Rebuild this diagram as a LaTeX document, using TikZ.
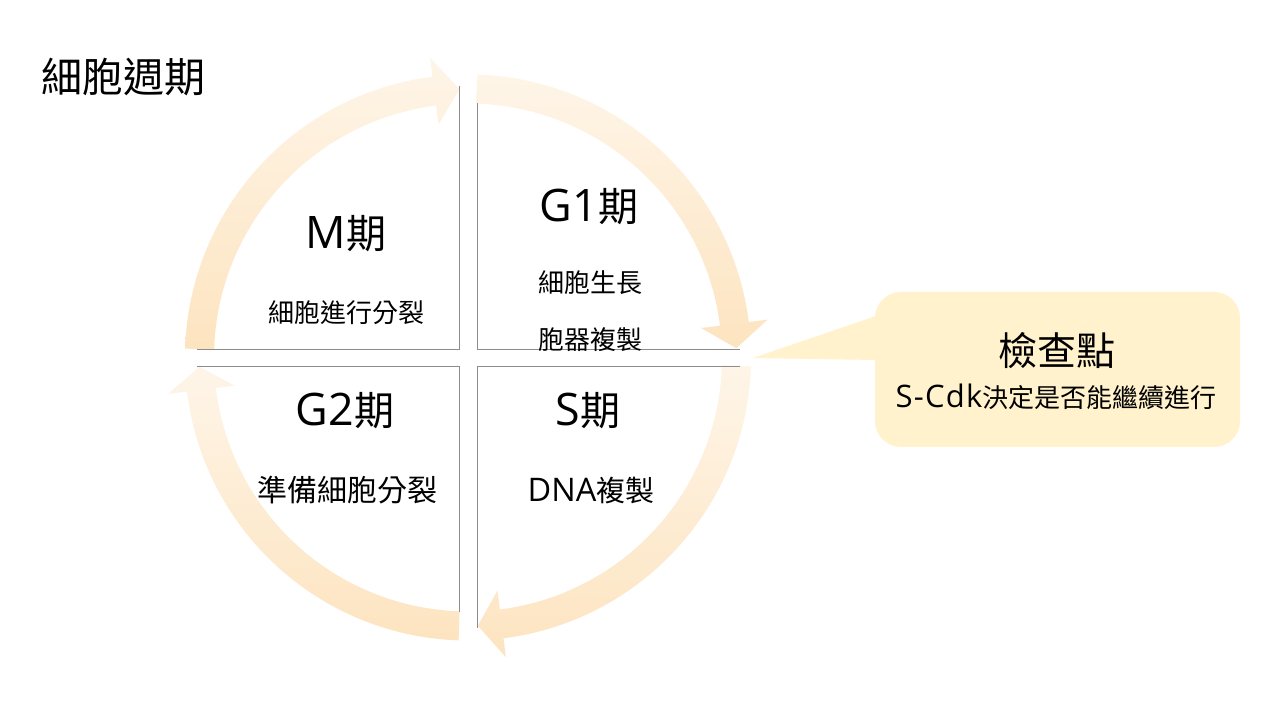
\documentclass[tikz,border=0pt]{standalone}
\usepackage{fontspec}
\setmainfont{Noto Sans CJK TC}
\newfontfamily\latin[Scale=1.12]{Open Sans}
\newfontfamily\latinwide[LetterSpace=4]{Open Sans}
\definecolor{arrowlight}{HTML}{FEF5E8}
\definecolor{arrowdark}{HTML}{FDE4C0}
\definecolor{calloutfill}{HTML}{FFF2CC}
\definecolor{edgegray}{HTML}{8C8C8C}
\newcommand\cycarrow[3]{%
  \shade[top color=arrowlight, bottom color=arrowdark]
    (#1:283) arc[start angle=#1, end angle=#2, radius=283]
    -- (#2:302) -- (#3:268.5) -- (#2:235) -- (#2:254)
    arc[start angle=#2, end angle=#1, radius=254] -- cycle;}
\tikzset{
  txt/.style={inner sep=0pt, anchor=center, text=black},
  big/.style={txt, font=\fontsize{40}{44}\selectfont},
  small/.style={txt, font=\fontsize{26}{30}\selectfont},
  edge/.style={draw=edgegray, line width=0.9pt},
}
\begin{document}
\begin{tikzpicture}[x=1pt, y=1pt]
\useasboundingbox (0,0) rectangle (1280,720);
\fill[white] (0,0) rectangle (1280,720);
% title
\node[txt, font=\fontsize{41}{45}\selectfont] (title) at (123.5,643) {細胞週期};
% cycle arrows
\begin{scope}[shift={(468,362.5)}]
  \cycarrow{178.2}{97.2}{91.8}
  \cycarrow{88.1}{7.2}{2.0}
  \cycarrow{-1.8}{-82.8}{-87.9}
  \cycarrow{-91.9}{-173.1}{-178.0}
\end{scope}
% quadrant edges
\draw[edge] (459.5,634) -- (459.5,371) -- (197,371);
\draw[edge] (477,617) -- (477,371) -- (740,371);
\draw[edge] (740,354) -- (477,354) -- (477,92);
\draw[edge] (197,354) -- (459.5,354) -- (459.5,108);
% quadrant texts
\node[big] (m) at (346,486) {{\latin M}期};
\node[small] (mt) at (346.5,407) {細胞進行分裂};
\node[big] (g1) at (589,513) {{\latin G1}期};
\node[small] (g1a) at (590,437) {細胞生長};
\node[small] (g1b) at (590,380) {胞器複製};
\node[big] (g2) at (345,309) {{\latin G2}期};
\node[txt, font=\fontsize{30}{34}\selectfont] (g2t) at (347.5,230) {準備細胞分裂};
\node[big] (s) at (588,309) {{\latin S}期};
\node[txt, font=\fontsize{29}{33}\selectfont] (st) at (591,230) {{\latin DNA}複製};
% callout
\fill[calloutfill] (876,404) -- (753,362) -- (876,360) -- cycle;
\node[fill=calloutfill, rounded corners=26pt, minimum width=365pt, minimum height=155pt, inner sep=0pt] (cb) at (1057.5,350.5) {};
\node[txt, font=\fontsize{39}{43}\selectfont] (cb1) at (1057,369) {檢查點};
\node[small] (cb2) at (1056,323) {{\latinwide\fontsize{31}{35}\selectfont S-Cdk}決定是否能繼續進行};
\end{tikzpicture}
\end{document}
